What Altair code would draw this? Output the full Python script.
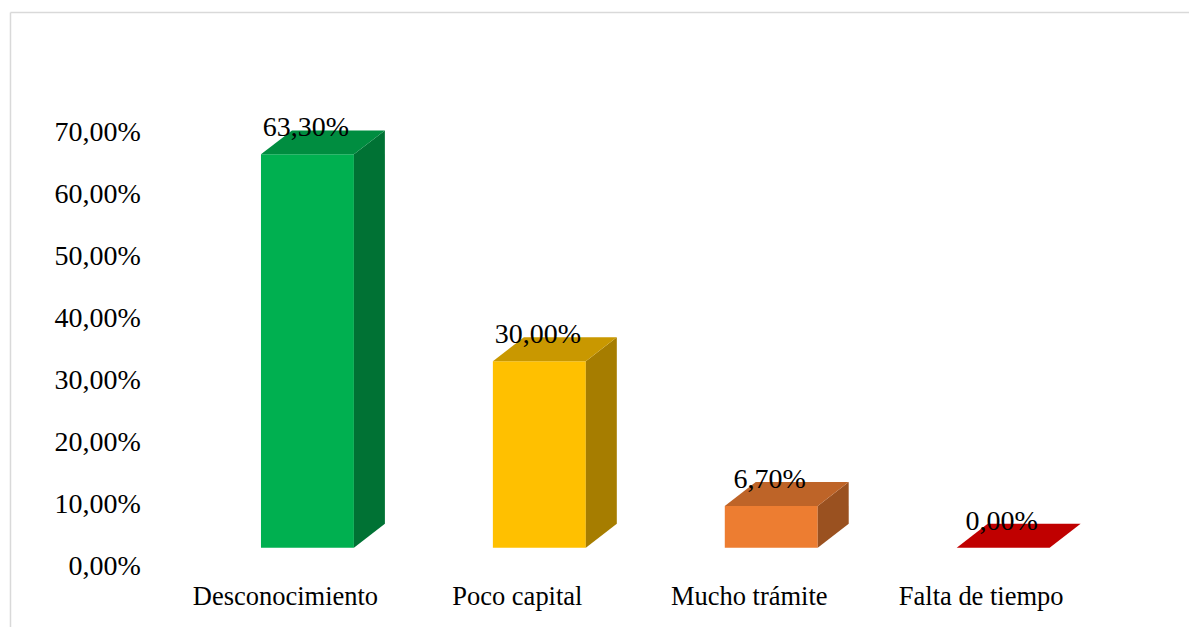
import json
import altair as alt
import pandas as pd

# ---- data ----
CATEGORIES = ["Desconocimiento", "Poco capital", "Mucho trámite", "Falta de tiempo"]
VALUES = [63.3, 30.0, 6.7, 0.0]
VALUE_LABELS = ["63,30%", "30,00%", "6,70%", "0,00%"]
Y_TICKS = [0, 10, 20, 30, 40, 50, 60, 70]

# ---- styles ----
FRONT = ["#00B050", "#FFC000", "#ED7D31", "#C00000"]
SIDE = ["#007234", "#A67D00", "#9A5120", "#7D0000"]
TOP = ["#008D40", "#C99800", "#BE6428", "#C00000"]
BAR_LEFT, BAR_RIGHT = -0.1034, 0.2974   # front face extent, category units
DEPTH_X, DEPTH_Y = 0.1336, 3.86         # 3D depth offsets
BASE = 3.1                              # front face floor
FONT = "Liberation Serif"

W, H = 1032, 435
PAD_L, PAD_T = 149.4, 124
XDOM = [-0.55, 3.9]
YDOM = [0, 70]

front_rows, side_rows, top_rows, text_rows = [], [], [], []
for i, (c, v) in enumerate(zip(CATEGORIES, VALUES)):
    xl, xr = i + BAR_LEFT, i + BAR_RIGHT
    b, t = BASE, BASE + v
    front_rows.append(dict(x=xl, x2=xr, y=b, y2=t, color=FRONT[i]))
    side_rows += [
        dict(face=f"s{i}", x=xr, y=b, y2=t, color=SIDE[i]),
        dict(face=f"s{i}", x=xr + DEPTH_X, y=b + DEPTH_Y, y2=t + DEPTH_Y, color=SIDE[i]),
    ]
    top_rows += [
        dict(face=f"t{i}", x=xl, y=t, y2=t, color=TOP[i]),
        dict(face=f"t{i}", x=xl + DEPTH_X, y=t, y2=t + DEPTH_Y, color=TOP[i]),
        dict(face=f"t{i}", x=xr, y=t, y2=t + DEPTH_Y, color=TOP[i]),
        dict(face=f"t{i}", x=xr + DEPTH_X, y=t + DEPTH_Y, y2=t + DEPTH_Y, color=TOP[i]),
    ]
    text_rows.append(dict(x=(xl + xr) / 2, y=t, label=VALUE_LABELS[i]))

xs = alt.Scale(domain=XDOM, nice=False, zero=False)
ys = alt.Scale(domain=YDOM, nice=False, zero=False)

x_axis = alt.Axis(
    values=list(range(len(CATEGORIES))),
    labelExpr=json.dumps(CATEGORIES) + "[datum.value]",
    title=None, domain=False, ticks=False, tickSize=0, grid=False,
    labelFont=FONT, labelFontSize=26.5, labelColor="#000000",
    labelBaseline="middle", labelPadding=30, labelAlign="center",
    labelOverlap=False, labelFlush=False, labelLimit=0,
)
y_axis = alt.Axis(
    values=Y_TICKS,
    labelExpr="replace(format(datum.value, '.2f'), '.', ',') + '%'",
    title=None, domain=False, ticks=False, tickSize=0, grid=False,
    labelFont=FONT, labelFontSize=28, labelColor="#000000",
    labelPadding=17, labelOverlap=False, labelFlush=False, labelLimit=0,
)

X = alt.X("x:Q", scale=xs, axis=x_axis)
Y = alt.Y("y:Q", scale=ys, axis=y_axis, stack=None)

front = alt.Chart(pd.DataFrame(front_rows)).mark_rect().encode(
    x=X, x2="x2:Q", y=Y, y2="y2:Q",
    color=alt.Color("color:N", scale=None),
)

side = alt.Chart(pd.DataFrame(side_rows)).mark_area(interpolate="linear").encode(
    x=X, y=Y, y2="y2:Q",
    color=alt.Color("color:N", scale=None),
    detail="face:N",
)

top = alt.Chart(pd.DataFrame(top_rows)).mark_area(interpolate="linear").encode(
    x=X, y=Y, y2="y2:Q",
    color=alt.Color("color:N", scale=None),
    detail="face:N",
)

labels = alt.Chart(pd.DataFrame(text_rows)).mark_text(
    font=FONT, fontSize=28, color="#000000", dy=-26, dx=-1.5, baseline="middle", align="center"
).encode(
    x=X, y=Y,
    text="label:N",
)

one = pd.DataFrame({"a": [0]})
border_left = alt.Chart(one).mark_rule(color="#D9D9D9", strokeWidth=1.5).encode(
    x=alt.value(10.5 - 8 - PAD_L), y=alt.value(12.5 - 8 - PAD_T), y2=alt.value(H + 100)
)
border_top = alt.Chart(one).mark_rule(color="#D9D9D9", strokeWidth=1.5).encode(
    x=alt.value(10.5 - 8 - PAD_L), x2=alt.value(W + 100), y=alt.value(12.5 - 8 - PAD_T)
)

chart = alt.layer(front, side, top, labels, border_left, border_top).properties(
    width=W, height=H,
    autosize=alt.AutoSizeParams(type="none"),
    padding={"left": PAD_L, "top": PAD_T, "right": 0, "bottom": 60},
    background="#FFFFFF",
).configure_view(stroke=None)

chart.save("out.html", embed_options={"renderer": "svg", "actions": False})
